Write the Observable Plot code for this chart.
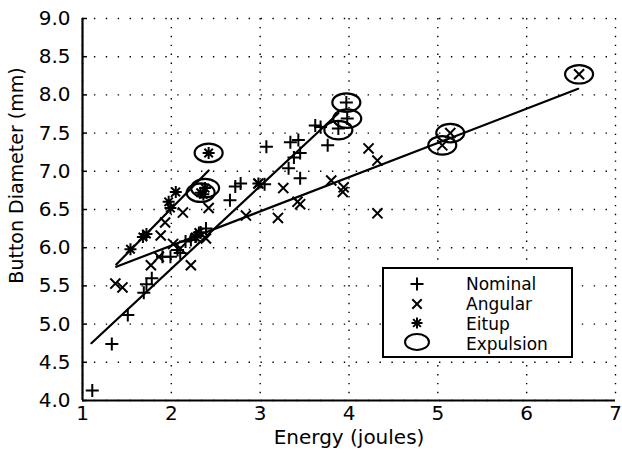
<!DOCTYPE html>
<html><head><meta charset="utf-8">
<script src="https://cdn.jsdelivr.net/npm/d3@7"></script>
<script src="https://cdn.jsdelivr.net/npm/@observablehq/plot@0.6"></script>
<style>body{margin:0;background:#fff}svg{display:block}</style>
</head><body><div id="chart"></div>
<script>
// Energy (joules), Button Diameter (mm)
const nominal = [
  [1.11,4.13],[1.33,4.74],[1.51,5.12],[1.69,5.41],[1.72,5.52],[1.78,5.60],
  [1.90,5.88],[1.99,5.88],[2.07,5.97],[2.10,5.93],[2.16,6.08],[2.22,6.10],
  [2.28,6.15],[2.33,6.20],[2.39,6.25],[2.66,6.62],[2.72,6.80],[2.78,6.84],
  [3.05,6.83],[3.07,7.32],[3.32,7.04],[3.34,7.38],[3.38,7.18],[3.43,7.41],
  [3.45,7.24],[3.45,6.91],[3.62,7.60],[3.68,7.58],[3.76,7.34],[3.88,7.56],
  [3.98,7.69],[3.97,7.90]
];
const angular = [
  [1.37,5.53],[1.45,5.48],[1.77,5.77],[1.86,5.88],[1.88,6.16],[1.93,6.33],
  [2.02,6.05],[2.10,5.99],[2.13,6.46],[2.22,5.77],[2.39,6.12],[2.42,6.52],
  [2.84,6.42],[2.98,6.84],[3.20,6.39],[3.26,6.78],[3.42,6.60],[3.45,6.57],
  [3.80,6.88],[3.94,6.79],[3.93,6.73],[4.22,7.30],[4.32,7.14],[4.32,6.45],
  [5.05,7.34],[5.14,7.50],[6.59,8.27]
];
const fitup = [
  [1.54,5.98],[1.68,6.14],[1.72,6.18],[1.97,6.60],[1.99,6.52],[2.05,6.73],
  [2.27,6.14],[2.31,6.20],[2.33,6.72],[2.38,6.78],[2.36,6.70],[2.42,7.24],
  [2.98,6.84]
];
const expulsion = [
  [2.42,7.24],[2.33,6.72],[2.38,6.78],[3.88,7.54],[3.98,7.69],[3.97,7.90],
  [5.05,7.34],[5.14,7.50],[6.59,8.27]
];
// fitted lines (endpoints)
const nominalFit = [[1.10,4.75],[3.88,7.76]];
const angularFit = [[1.38,5.75],[6.58,8.08]];
const fitupFit = [[1.38,5.78],[2.42,7.01]];

const xTicks = [1,2,3,4,5,6,7];
const yTicks = [4.0,4.5,5.0,5.5,6.0,6.5,7.0,7.5,8.0,8.5,9.0];
const legendLabels = ["Nominal","Angular","Eitup","Expulsion"];

const toObj = a => a.map(([e,v]) => ({e, v}));

const plusSym = {draw(c, size){const r=Math.sqrt(size/Math.PI); c.moveTo(-r,0); c.lineTo(r,0); c.moveTo(0,-r); c.lineTo(0,r);}};
const timesSym = {draw(c, size){const r=Math.sqrt(size/Math.PI)*0.72; c.moveTo(-r,-r); c.lineTo(r,r); c.moveTo(-r,r); c.lineTo(r,-r);}};
const starSym = {draw(c, size){const r=Math.sqrt(size/Math.PI); for(let i=0;i<4;i++){const a=i*Math.PI/4; c.moveTo(-r*Math.cos(a),-r*Math.sin(a)); c.lineTo(r*Math.cos(a), r*Math.sin(a));}}};
const ellipseSym = {draw(c, size){const rx=Math.sqrt(size/Math.PI), ry=rx*0.66, k=0.5523;
  c.moveTo(rx,0);
  c.bezierCurveTo(rx, ry*k, rx*k, ry, 0, ry);
  c.bezierCurveTo(-rx*k, ry, -rx, ry*k, -rx, 0);
  c.bezierCurveTo(-rx, -ry*k, -rx*k, -ry, 0, -ry);
  c.bezierCurveTo(rx*k, -ry, rx, -ry*k, rx, 0);
  c.closePath();}};

const W = 622, H = 455;
const chart = Plot.plot({
  width: W, height: H,
  marginLeft: 82, marginRight: 7, marginTop: 18, marginBottom: 55,
  style: {fontFamily: "DejaVu Sans", fontSize: "20px", color: "black", background: "white"},
  x: {domain: [1,7]},
  y: {domain: [4,9]},
  marks: [
    Plot.gridX(xTicks, {stroke: "black", strokeOpacity: 1, strokeWidth: 1.4, strokeDasharray: "1.4,7.5"}),
    Plot.gridY(yTicks, {stroke: "black", strokeOpacity: 1, strokeWidth: 1.4, strokeDasharray: "1.4,10.5"}),
    Plot.axisX(xTicks, {tickSize: 0, tickPadding: 5, label: null, fontSize: 20}),
    Plot.axisY(yTicks, {tickSize: 0, tickPadding: 12, tickFormat: d3.format(".1f"), label: null, fontSize: 20}),
    Plot.ruleY(yTicks, {insetRight: 528, stroke: "black", strokeWidth: 1.5}),
    Plot.ruleX([1], {stroke: "black", strokeWidth: 2.2}),
    Plot.ruleY([4], {stroke: "black", strokeWidth: 2.2}),
    Plot.line(toObj(nominalFit), {x: "e", y: "v", stroke: "black", strokeWidth: 2.2}),
    Plot.line(toObj(angularFit), {x: "e", y: "v", stroke: "black", strokeWidth: 2.2}),
    Plot.line(toObj(fitupFit), {x: "e", y: "v", stroke: "black", strokeWidth: 2.2}),
    Plot.dot(toObj(nominal), {x: "e", y: "v", symbol: plusSym, r: 6.5, stroke: "black", strokeWidth: 2, fill: "none"}),
    Plot.dot(toObj(angular), {x: "e", y: "v", symbol: timesSym, r: 7, stroke: "black", strokeWidth: 2, fill: "none"}),
    Plot.dot(toObj(fitup), {x: "e", y: "v", symbol: starSym, r: 6, stroke: "black", strokeWidth: 2, fill: "none"}),
    Plot.dot(toObj(expulsion), {x: "e", y: "v", symbol: ellipseSym, r: 14, stroke: "black", strokeWidth: 2.2, fill: "none"}),
    Plot.text(["Energy (joules)"], {frameAnchor: "bottom", dy: 37, lineAnchor: "middle", textAnchor: "middle", fontSize: 20}),
    Plot.text(["Button Diameter (mm)"], {frameAnchor: "left", dx: -66, dy: -34, rotate: -90, textAnchor: "middle", lineAnchor: "middle", fontSize: 19})
  ]
});

// Legend box
const svg = d3.select(chart);
const lg = svg.append("g").attr("font-family", "DejaVu Sans").attr("font-size", 17).attr("text-anchor", "start");
lg.append("rect").attr("x", 383).attr("y", 268).attr("width", 189).attr("height", 89)
  .attr("fill", "white").attr("stroke", "black").attr("stroke-width", 2);
const legendSyms = [[plusSym, 6.5, 284], [timesSym, 6.5, 304], [starSym, 5.5, 323], [ellipseSym, 12, 342]];
const baselines = [290, 310, 330, 350];
legendSyms.forEach(([sym, r, y], i) => {
  const p = d3.path(); sym.draw(p, r*r*Math.PI);
  lg.append("path").attr("d", p.toString()).attr("transform", `translate(417,${y})`)
    .attr("fill", "none").attr("stroke", "black").attr("stroke-width", 2);
  lg.append("text").attr("x", 466).attr("y", baselines[i]).attr("text-anchor", "start").text(legendLabels[i]);
});

document.getElementById("chart").append(chart);
</script>
</body></html>
